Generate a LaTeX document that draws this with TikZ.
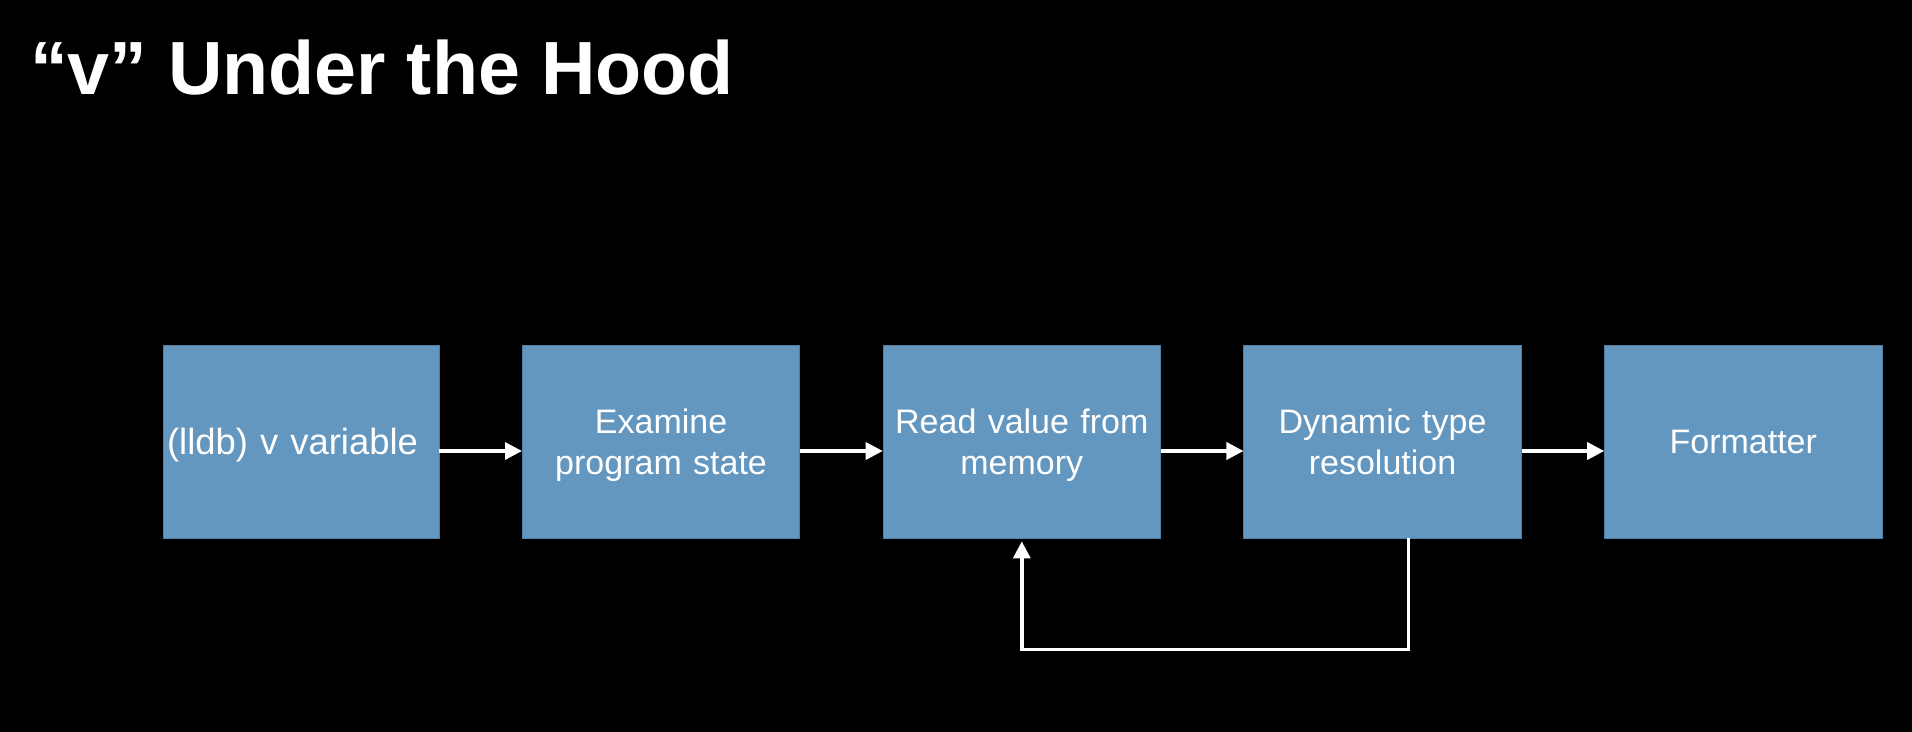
\documentclass[tikz,border=0pt]{standalone}
\usepackage{fontspec}
\setmainfont{Liberation Sans}
\usepackage{tikz}
\usetikzlibrary{arrows.meta,positioning,calc}
\definecolor{stageblue}{HTML}{6497BF}
\definecolor{stageedge}{HTML}{4E7FA6}
\tikzstyle{stage} = [rectangle, minimum width=138pt, minimum height=96.5pt, text width=132pt, text depth=0pt, align=center, text=white, fill=stageblue, draw=stageedge, line width=0.4pt, font=\fontsize{17}{20.5}\selectfont]
\tikzstyle{twoline} = [text depth=20.5pt]
\tikzstyle{arrow} = [draw=white, line width=1.75pt, -{Triangle[length=8.5pt,width=8.5pt]}]
\tikzstyle{heading} = [anchor=base west, inner sep=0pt, text=white, font=\fontsize{37.7}{44}\selectfont\bfseries]

\begin{document}
\begin{tikzpicture}[node distance=41.3pt]
	\fill[black] (0,0) rectangle (956pt,-366pt);
	\useasboundingbox (0,0) rectangle (956pt,-366pt);

	\node (title) [heading] at (14.8pt,-47.5pt) {“v” Under the Hood};

	\node (lldb) [stage, text width=136pt, inner xsep=0pt, font=\fontsize{18.2}{22}\selectfont] at (150.5pt,-220.75pt) {(lldb) v variable\hspace*{8.5pt}};
	\node (examine) [stage, twoline, right = of lldb] {Examine\\program state};
	\node (readmem) [stage, twoline, right = of examine] {Read value from\\memory};
	\node (dyntype) [stage, twoline, right = of readmem] {Dynamic type\\resolution};
	\node (formatter) [stage, right = of dyntype] {Formatter};

	\draw[arrow] ([yshift=-4.75pt]lldb.east) -- ([yshift=-4.75pt]examine.west);
	\draw[arrow] ([yshift=-4.75pt]examine.east) -- ([yshift=-4.75pt]readmem.west);
	\draw[arrow] ([yshift=-4.75pt]readmem.east) -- ([yshift=-4.75pt]dyntype.west);
	\draw[arrow] ([yshift=-4.75pt]dyntype.east) -- ([yshift=-4.75pt]formatter.west);

	% loop back from type resolution to memory read
	\coordinate (loopcorner) at ([xshift=13pt,yshift=-55.5pt]dyntype.south);
	\draw[arrow] ([xshift=13pt]dyntype.south) -- (loopcorner) -| ([yshift=-1.5pt]readmem.south);
\end{tikzpicture}
\end{document}
